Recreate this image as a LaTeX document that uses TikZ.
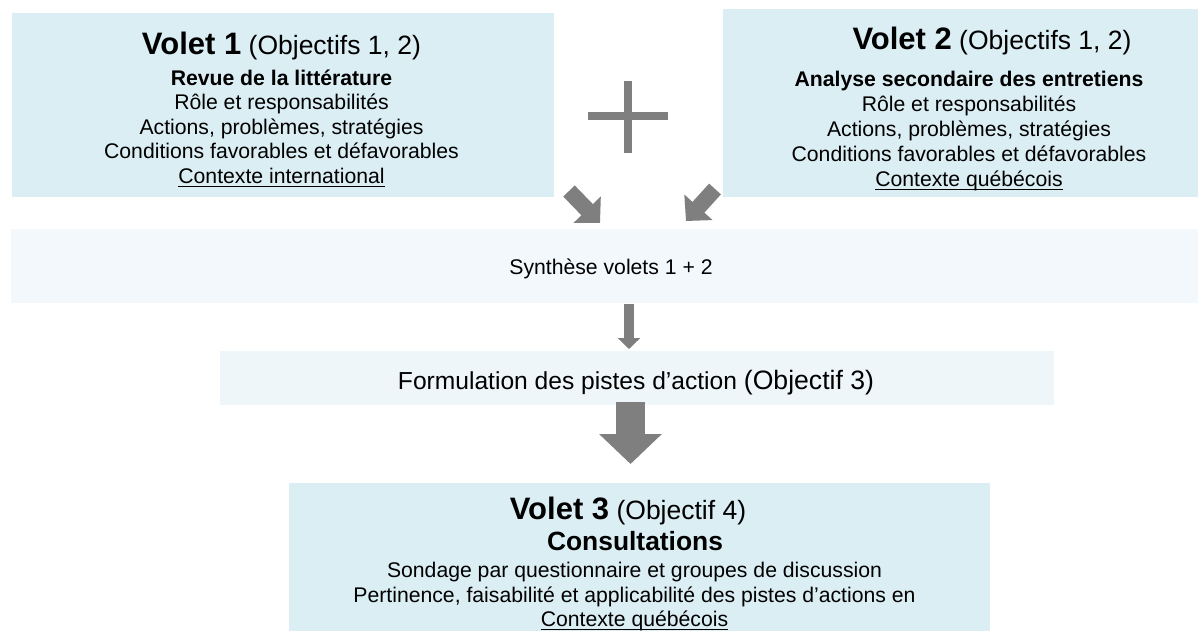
\documentclass[tikz,border=0pt]{standalone}
\usepackage{fontspec}
\setmainfont{Liberation Sans}
\usetikzlibrary{arrows.meta}
\definecolor{voletfill}{HTML}{DBEEF4}
\definecolor{synthfill}{HTML}{F2F8FC}
\definecolor{formfill}{HTML}{EEF6F9}
\definecolor{arrowgray}{HTML}{7F7F7F}
\begin{document}
\begin{tikzpicture}[x=1pt,y=-1pt,
  panel/.style={rectangle, draw=none, inner sep=0pt, outer sep=0pt},
  voletbox/.style={panel, fill=voletfill},
  synthbox/.style={panel, fill=synthfill},
  formbox/.style={panel, fill=formfill},
  txt/.style={inner sep=0pt, outer sep=0pt, anchor=base, text=black},
  body/.style={txt, font=\fontsize{21.2}{24}\selectfont},
  bodybold/.style={txt, font=\fontsize{21.2}{24}\selectfont\bfseries},
  titletxt/.style={txt, font=\fontsize{26.5}{28}\selectfont},
  ulinestyle/.style={black, line width=1.6pt},
  fatarrow/.style={arrowgray, line width=16pt, -{Triangle[length=18.5pt,width=37pt]}},
  thinarrow/.style={arrowgray, line width=10pt, -{Triangle[length=11pt,width=22pt]}},
  bigarrow/.style={arrowgray, line width=29pt, -{Triangle[length=30pt,width=61pt]}}
]
\useasboundingbox (0,0) rectangle (1198,631);
\fill[white] (0,0) rectangle (1198,631);

% boxes
\node[voletbox, minimum width=542pt, minimum height=184pt] (v1) at (283,105) {};
\node[voletbox, minimum width=475pt, minimum height=188pt] (v2) at (960.5,103) {};
\node[synthbox, minimum width=1187pt, minimum height=74pt] (syn) at (604.5,266) {};
\node[formbox, minimum width=834pt, minimum height=54pt] (form) at (637,378) {};
\node[voletbox, minimum width=701pt, minimum height=148pt] (v3) at (639.5,557) {};

% plus sign
\draw[arrowgray, line width=7.5pt] (588,116) -- (668,116) (628,81) -- (628,153);

% Volet 1 text
\node[titletxt] (v1t) at (281.5,55) {{\fontsize{31}{31}\selectfont\bfseries Volet 1} (Objectifs 1, 2)};
\node[bodybold] (v1a) at (281.5,86) {Revue de la littérature};
\node[body] (v1b) at (281.5,110) {Rôle et responsabilités};
\node[body] (v1c) at (281.5,134.5) {Actions, problèmes, stratégies};
\node[body] (v1d) at (281.5,159) {Conditions favorables et défavorables};
\node[body] (v1e) at (281.5,183) {Contexte international};
\draw[ulinestyle] ([yshift=-3.5pt]v1e.base west) -- ([yshift=-3.5pt]v1e.base east);

% Volet 2 text
\node[titletxt] (v2t) at (992,50) {{\fontsize{31}{31}\selectfont\bfseries Volet 2} (Objectifs 1, 2)};
\node[bodybold] (v2a) at (969,87) {Analyse secondaire des entretiens};
\node[body] (v2b) at (969,112) {Rôle et responsabilités};
\node[body] (v2c) at (969,137) {Actions, problèmes, stratégies};
\node[body] (v2d) at (969,162) {Conditions favorables et défavorables};
\node[body] (v2e) at (969,186) {Contexte québécois};
\draw[ulinestyle] ([yshift=-3.5pt]v2e.base west) -- ([yshift=-3.5pt]v2e.base east);

% Synthese
\node[body] (synt) at (611,274) {Synthèse volets 1 + 2};

% Formulation
\node[txt, font=\fontsize{24.6}{26}\selectfont] (formt) at (636,389.5) {Formulation des pistes d’action {\fontsize{26.6}{28}\selectfont(Objectif 3)}};

% Volet 3 text
\node[titletxt] (v3t) at (628,519) {{\fontsize{31}{31}\selectfont\bfseries Volet 3} (Objectif 4)};
\node[txt, font=\fontsize{26.4}{28}\selectfont\bfseries] (v3a) at (635,550) {Consultations};
\node[body] (v3b) at (634.5,577) {Sondage par questionnaire et groupes de discussion};
\node[body] (v3c) at (634.5,602) {Pertinence, faisabilité et applicabilité des pistes d’actions en};
\node[body] (v3d) at (634.5,626) {Contexte québécois};
\draw[ulinestyle] ([yshift=-3.5pt]v3d.base west) -- ([yshift=-3.5pt]v3d.base east);

% arrow end points
\coordinate (a1s) at (569,191);
\coordinate (a1e) at (600,223);
\coordinate (a2s) at (715,189);
\coordinate (a2e) at (686,221);
\coordinate (a3s) at (629,304);
\coordinate (a3e) at (629,349);
\coordinate (a4s) at (630.5,402);
\coordinate (a4e) at (630.5,464);

\draw[fatarrow] (a1s) -- (a1e);
\draw[fatarrow] (a2s) -- (a2e);
\draw[thinarrow] (a3s) -- (a3e);
\draw[bigarrow] (a4s) -- (a4e);
\end{tikzpicture}
\end{document}
